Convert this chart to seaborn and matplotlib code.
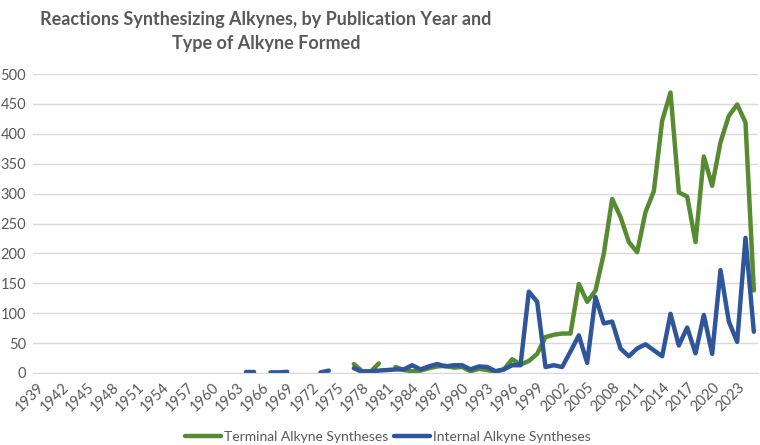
import matplotlib
matplotlib.use('Agg')
import matplotlib.pyplot as plt
import numpy as np
import pandas as pd
import seaborn as sns

green = '#568B31'
blue = '#2F559B'
grey_text = '#595959'

# data (missing years = gaps in the line)
terminal_years = [1977, 1978, 1979, 1980] + list(range(1982, 2026))
terminal_counts = [15, 3, 2, 16,
                   10, 5, 3, 4, 8, 11, 12, 9, 10, 3, 7, 5, 2, 6, 23, 14, 20, 32,
                   60, 64, 66, 66, 149, 119, 138, 200, 291, 261, 219, 202, 269, 304,
                   422, 469, 302, 295, 219, 362, 313, 386, 430, 449, 419, 138]

internal_years = [1964, 1965, 1967, 1968, 1969, 1973, 1974] + list(range(1977, 2026))
internal_counts = [1, 1, 1, 1, 2, 1, 4,
                   8, 2, 3, 4, 5, 6, 6, 13, 6, 11, 15, 11, 13, 13, 6, 11, 10, 3, 6,
                   13, 13, 136, 119, 10, 13, 10, 36, 63, 17, 127, 83, 86, 41, 28, 41,
                   48, 38, 28, 99, 46, 76, 33, 97, 32, 172, 86, 52, 226, 69]

tick_years = list(range(1939, 2024, 3))


def segments(years, counts, name):
    d = pd.DataFrame({'year': years, 'count': counts})
    d['segment'] = (d['year'].diff() > 1).cumsum()
    d['series'] = name
    return d


df = pd.concat([
    segments(terminal_years, terminal_counts, 'Terminal Alkyne Syntheses'),
    segments(internal_years, internal_counts, 'Internal Alkyne Syntheses'),
], ignore_index=True)

sns.set_style('white')
plt.rcParams['font.family'] = ['Lato', 'DejaVu Sans']

fig = plt.figure(figsize=(7.6, 4.45), dpi=100)
ax = fig.add_axes([33 / 760, 1 - 373 / 445, 725 / 760, 299 / 445])

sns.lineplot(data=df, x='year', y='count', hue='series', units='segment',
             estimator=None, palette=[green, blue], linewidth=3.2,
             hue_order=['Terminal Alkyne Syntheses', 'Internal Alkyne Syntheses'],
             ax=ax, legend=True)

ax.set_xlim(1938.5, 2025.5)
ax.set_ylim(0, 500)
ax.set_yticks(np.arange(0, 501, 50))
ax.set_xticks(tick_years)
ax.set_xticklabels([str(y) for y in tick_years], rotation=45, ha='right',
                   rotation_mode='anchor')
ax.tick_params(axis='both', length=0, labelsize=10.5, labelcolor=grey_text)
ax.tick_params(axis='y', pad=5)
ax.tick_params(axis='x', pad=5)
ax.grid(axis='y', color='#D9D9D9', lw=1)
ax.set_axisbelow(True)
for s in ['top', 'right', 'left']:
    ax.spines[s].set_visible(False)
ax.spines['bottom'].set_color('#D9D9D9')
ax.set_xlabel('')
ax.set_ylabel('')

handles, labels = ax.get_legend_handles_labels()
ax.get_legend().remove()
fig.legend(handles, labels, loc='center', bbox_to_anchor=(388 / 760, 1 - 437 / 445),
           ncol=2, frameon=False, fontsize=10, labelcolor=grey_text,
           handlelength=2.6, handletextpad=0.2, columnspacing=0.4)

fig.text(266 / 760, 1 - 31 / 445,
         'Reactions Synthesizing Alkynes, by Publication Year and\nType of Alkyne Formed',
         ha='center', va='center', fontsize=13, fontweight='bold', color=grey_text,
         linespacing=1.5)

fig.savefig('out.png', dpi=100)
